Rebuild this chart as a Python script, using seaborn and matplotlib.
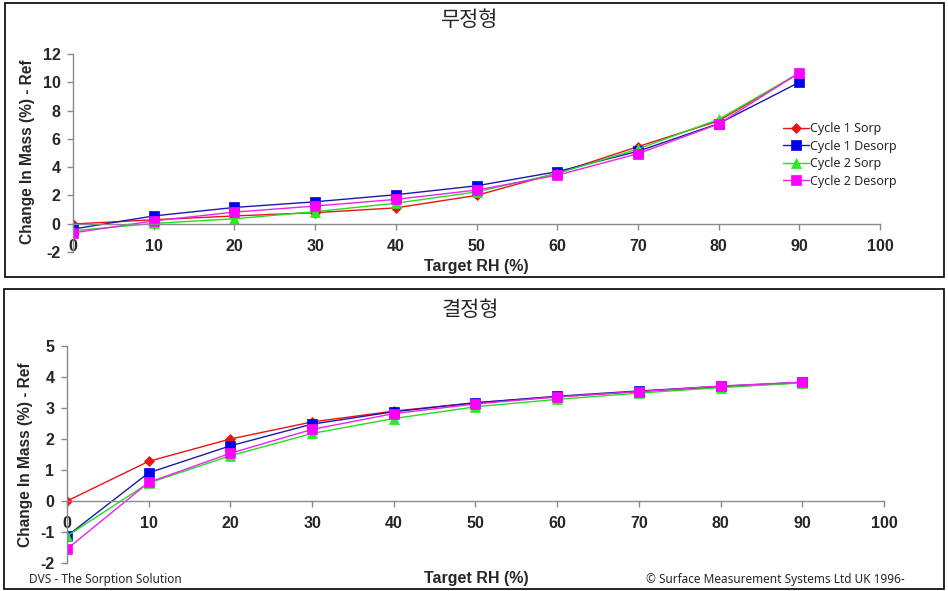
import matplotlib
matplotlib.use("Agg")
import matplotlib.pyplot as plt
from matplotlib.patches import Rectangle
import seaborn as sns
import pandas as pd

# ---- data ----
rh = [0, 10, 20, 30, 40, 50, 60, 70, 80, 90]
series_names = ["Cycle 1 Sorp", "Cycle 1 Desorp", "Cycle 2 Sorp", "Cycle 2 Desorp"]

# amorphous (무정형)
amor_c1_sorp   = [-0.02, 0.28, 0.55, 0.78, 1.12, 2.00, 3.58, 5.45, 7.27, 10.65]
amor_c1_desorp = [-0.38, 0.55, 1.15, 1.55, 2.05, 2.68, 3.68, 5.12, 7.08, 10.00]
amor_c2_sorp   = [-0.50, 0.02, 0.35, 0.85, 1.45, 2.25, 3.55, 5.28, 7.38, 10.65]
amor_c2_desorp = [-0.65, 0.20, 0.82, 1.25, 1.72, 2.38, 3.43, 4.95, 7.05, 10.68]

# crystalline (결정형)
crys_c1_sorp   = [0.00, 1.28, 2.00, 2.55, 2.90, 3.17, 3.36, 3.53, 3.68, 3.82]
crys_c1_desorp = [-1.13, 0.91, 1.78, 2.48, 2.88, 3.17, 3.38, 3.55, 3.70, 3.83]
crys_c2_sorp   = [-1.13, 0.58, 1.46, 2.18, 2.66, 3.04, 3.28, 3.48, 3.66, 3.81]
crys_c2_desorp = [-1.55, 0.60, 1.54, 2.31, 2.82, 3.13, 3.36, 3.53, 3.71, 3.83]

titles = ["무정형", "결정형"]
x_ticks = [0, 10, 20, 30, 40, 50, 60, 70, 80, 90, 100]
y_ticks_top = [-2, 0, 2, 4, 6, 8, 10, 12]
y_ticks_bot = [-2, -1, 0, 1, 2, 3, 4, 5]

def make_df(vals):
    rows = []
    for name, v in zip(series_names, vals):
        for x, y in zip(rh, v):
            rows.append({"RH": x, "mass": y, "series": name})
    return pd.DataFrame(rows)

df_top = make_df([amor_c1_sorp, amor_c1_desorp, amor_c2_sorp, amor_c2_desorp])
df_bot = make_df([crys_c1_sorp, crys_c1_desorp, crys_c2_sorp, crys_c2_desorp])

sns.set_theme(style="white")
plt.rcParams["font.family"] = ["Liberation Sans", "DejaVu Sans"]
plt.rcParams["axes.unicode_minus"] = False

styles = {
    "Cycle 1 Sorp":   dict(color="#EE1111", marker="D", ms=5.0, mc="#EE1111"),
    "Cycle 1 Desorp": dict(color="#1A1AA8", marker="s", ms=6.5, mc="#0000EE"),
    "Cycle 2 Sorp":   dict(color="#22DD22", marker="^", ms=6.5, mc="#22EE22"),
    "Cycle 2 Desorp": dict(color="#EE22EE", marker="s", ms=7.5, mc="#FF00FF"),
}

W, H = 948, 591
fig = plt.figure(figsize=(W / 100, H / 100), dpi=100)
fig.patch.set_facecolor("white")

def fx(px): return px / W
def fy(py): return 1 - py / H

# panel borders
fig.add_artist(Rectangle((fx(5), fy(277)), fx(939), 274 / H, transform=fig.transFigure,
                         fill=False, edgecolor="black", linewidth=1.2))
fig.add_artist(Rectangle((fx(4), fy(589)), fx(940), 300 / H, transform=fig.transFigure,
                         fill=False, edgecolor="black", linewidth=1.2))

ax1 = fig.add_axes([fx(73), fy(252), fx(880 - 73), (252 - 54) / H])
ax2 = fig.add_axes([fx(67), fy(563), fx(884 - 67), (563 - 346) / H])

def draw(ax, df, ylim, yticks, legend):
    for name in series_names:
        s = styles[name]
        sub = df[df["series"] == name]
        sns.lineplot(data=sub, x="RH", y="mass", ax=ax, color=s["color"], linewidth=1.0,
                     marker=s["marker"], markersize=s["ms"], markerfacecolor=s["mc"],
                     markeredgecolor=s["mc"], markeredgewidth=0.5, label=name,
                     legend=legend, sort=False)
    ax.set_xlim(0, 100)
    ax.set_ylim(*ylim)
    ax.set_xticks(x_ticks)
    ax.set_yticks(yticks)
    ax.set_facecolor("none")
    for sp in ["top", "right"]:
        ax.spines[sp].set_visible(False)
    ax.spines["bottom"].set_position(("data", 0))
    for sp in ["left", "bottom"]:
        ax.spines[sp].set_color("#8a8a8a")
        ax.spines[sp].set_linewidth(1.0)
    ax.tick_params(axis="both", which="both", direction="out", length=4, width=1,
                   color="#8a8a8a", labelsize=11.5, bottom=True, left=True)
    ax.tick_params(axis="x", pad=7)
    ax.tick_params(axis="y", pad=5)
    for lab in ax.get_xticklabels() + ax.get_yticklabels():
        lab.set_fontweight("bold")
    ax.set_xlabel("")
    ax.set_ylabel("")
    ax.grid(False)
    if ax.get_legend() is not None:
        ax.get_legend().remove()

draw(ax1, df_top, (-2, 12), y_ticks_top, True)
draw(ax2, df_bot, (-2, 5), y_ticks_bot, False)

handles, labels = ax1.get_legend_handles_labels()
fig.legend(handles, labels, loc="center left",
           bbox_to_anchor=(fx(778), fy(155)), frameon=False,
           prop={"family": ["Noto Sans", "DejaVu Sans"], "size": 9},
           handlelength=2.1, handletextpad=0.1, labelspacing=0.35, borderaxespad=0)

# titles
fig.text(fx(470), fy(20), titles[0], ha="center", va="center", fontsize=15,
         family=["Noto Sans CJK KR", "DejaVu Sans"])
fig.text(fx(470), fy(310), titles[1], ha="center", va="center", fontsize=15,
         family=["Noto Sans CJK KR", "DejaVu Sans"])

# axis labels
for yc in (267, 578):
    fig.text(fx(476), fy(yc), "Target RH (%)", ha="center", va="center",
             fontsize=11.5, fontweight="bold")
fig.text(fx(28), fy(152), "Change In Mass (%) - Ref", ha="center", va="center",
         rotation=90, fontsize=11.2, fontweight="bold")
fig.text(fx(26), fy(455), "Change In Mass (%) - Ref", ha="center", va="center",
         rotation=90, fontsize=11.2, fontweight="bold")

# footer
fig.text(fx(29), fy(580), "DVS - The Sorption Solution", ha="left", va="center",
         fontsize=8.5, family=["Noto Sans", "DejaVu Sans"])
fig.text(fx(905), fy(580), "© Surface Measurement Systems Ltd UK 1996-", ha="right",
         va="center", fontsize=8.5, family=["Noto Sans", "DejaVu Sans"])

fig.savefig("out.png", dpi=100, facecolor="white")
